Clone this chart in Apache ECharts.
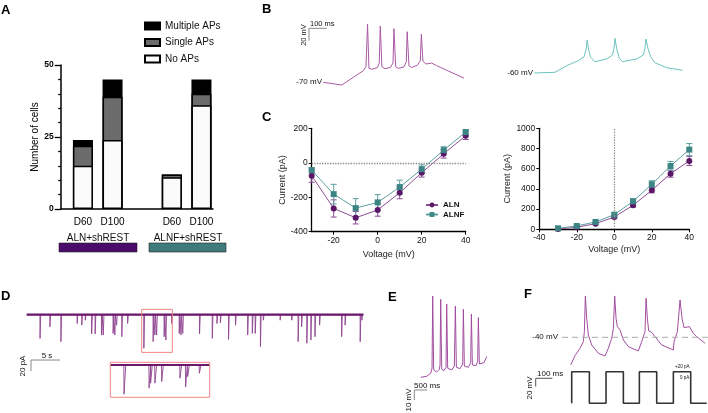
<!DOCTYPE html>
<html><head><meta charset="utf-8">
<script src="https://cdn.jsdelivr.net/npm/echarts@6/dist/echarts.min.js"></script>
<style>html,body{margin:0;padding:0;background:#fff}#c{width:708px;height:413px}</style>
</head><body><div id="c"></div>
<script>
// ================= DATA =================
// Panel A: number of cells by firing type
const groupsA = ['ALN+shREST', 'ALNF+shREST'];
const daysA = ['D60', 'D100', 'D60', 'D100'];
const catPosA = [1, 2, 4, 5];
const noAPs = [15, 24, 11, 36];
const singleAPs = [7, 15, 1, 4];
const multipleAPs = [2, 6, 0, 5];
const yTicksA = [0, 25, 50];

// Panel C: I-V curves
const voltages = [-30, -20, -10, 0, 10, 20, 30, 40];
const alnNa = [-75, -265, -319, -274, -174, -58, 52, 157];
const alnNaErr = [38, 50, 36, 36, 35, 25, 25, 22];
const alnfNa = [-43, -182, -263, -230, -141, -37, 73, 178];
const alnfNaErr = [15, 57, 55, 45, 40, 25, 20, 15];
const alnK = [3, 20, 56, 122, 238, 386, 551, 677];
const alnKErr = [3, 6, 10, 12, 18, 25, 35, 45];
const alnfK = [10, 33, 73, 145, 277, 446, 627, 789];
const alnfKErr = [4, 8, 12, 15, 25, 35, 45, 60];
const xTicksCL = [-20, 0, 20, 40];

// Panel B: current-clamp traces [ms, mV]
const traceB_ALN = [[0,-70],[104,-74.4],[109,-75],[170,-61.9],[226,-51.3],[241,-44.8],[250,24],[258,-47.4],[273,-49],[305,-46.5],[316,-39.5],[322,20.8],[331,-45],[348,-48],[380,-46],[394,-38.5],[399,16.5],[409,-45],[424,-47.5],[456,-45],[469,-37],[474,11.6],[484,-43.5],[499,-46],[531,-42.5],[548,-35.5],[554,7.4],[563,-36],[580,-40.5],[612,-39],[640,-43],[697,-50.5],[795,-63.4]];
const traceB_ALNF = [[0,-60],[117,-58.9],[183,-48.2],[249,-40.1],[281,-33.7],[292,-22.9],[299,-6.8],[307,-22.9],[318,-34.7],[343,-41.7],[409,-37.4],[442,-31],[450,-20.2],[456,-4.1],[465,-20.2],[480,-36.3],[499,-41.7],[578,-37.4],[616,-31],[625,-20.2],[631,-5.2],[642,-20.2],[657,-33.7],[681,-43.3],[747,-51.4],[838,-55.7]];

// Panel D: spontaneous currents (spike time s, amplitude pA)
const spikeTimesD = [2.3,4.0,5.9,8.7,9.5,10.1,11.2,11.8,12.9,13.2,14.9,15.2,15.5,16.4,17.4,20.2,21.8,22.1,22.4,23.7,24.0,25.0,26.3,26.6,26.9,29.8,32.0,32.8,33.4,34.8,36.0,38.1,38.9,39.4,40.3,40.8,43.7,45.7,46.8,47.4,48.3,49.0,49.7,50.5,54.3,54.9,57.5,57.8];
const spikeAmpsD = [-43,-22,-49,-16,-19,-10,-35,-35,-37,-37,-34,-37,-19,-40,-16,-61,-49,-37,-37,-40,-46,-16,-34,-37,-34,-35,-43,-16,-15,-45,-19,-37,-34,-34,-58,-10,-10,-10,-49,-22,-52,-46,-40,-19,-40,-19,-49,-10];
const recordEndD = 58.05;
const zoomWindowD = [19.83, 25.11];
const zoomAmpRangeD = [-68.5, 9.7];
const insetTimesD = [20.56, 21.89, 21.97, 22.20, 22.56, 23.53, 23.83, 23.94, 24.56];
const insetAmpsD = [-53, -42, -33, -33, -30, -24, -40, -21, -15];
const insetAmpRangeD = [-58.7, 4.9];

// Panel E: repetitive firing [ms, mV]
const traceE = [[0,-60],[231,-59],[385,-56],[436,-51],[462,21.3],[500,-52.7],[615,-54.7],[718,-52],[744,-47.7],[769,18],[808,-52],[897,-53.3],[974,-50],[1000,13.3],[1038,-51],[1192,-52.7],[1295,-48.7],[1333,11.3],[1372,-50],[1513,-51.3],[1615,-46.7],[1641,8],[1679,-48.7],[1833,-50],[1923,-45.3],[1949,3.3],[1987,-47.7],[2128,-48.3],[2192,-44],[2218,-0.3],[2256,-46.7],[2436,-45.3],[2538,-39.3]];

// Panel F: firing to square current pulses [ms, mV]
const traceF = [[0,-106.6],[26,-84],[56,-66.5],[76,-50.4],[82,-26.3],[88,59.6],[96,5.8],[106,-34.4],[126,-58.5],[166,-78.5],[206,-85],[226,-66.5],[246,-42.4],[256,-18.3],[264,59.6],[272,5.8],[280,-14.3],[296,-22.3],[316,-46.4],[346,-62.5],[406,-72.9],[426,-50.4],[446,-26.3],[452,54],[460,5.8],[468,-24.7],[486,-27.9],[506,-38.4],[546,-58.5],[616,-70.5],[620,-50.4],[640,-26.3],[656,50],[668,5.8],[680,-16.7],[712,-14.3],[736,-30.4],[756,-38.4],[806,-54.5]];
const stimEdgesF = [6, 112, 212, 316, 412, 516, 616, 720];
const stimEndF = 816;
const stimLevelsF = [0, 20];
const holdF = -40;

// ================= HELPERS =================
const FONT = 'Liberation Sans, Arial, sans-serif';
const grids = [], xAxes = [], yAxes = [], series = [];
function addGrid(g, xa, ya) {
  grids.push(g); const gi = grids.length - 1;
  xAxes.push(Object.assign({ gridIndex: gi }, xa));
  yAxes.push(Object.assign({ gridIndex: gi }, ya));
  return gi;
}
// a hidden grid whose scale is given by a reference point and units/px
function traceGrid(left, top, width, height, x0px, xPerPx, yRefPx, yRefVal, yPerPx) {
  return addGrid({ left, top, width, height },
    { type: 'value', show: false, min: (left - x0px) * xPerPx, max: (left + width - x0px) * xPerPx },
    { type: 'value', show: false, min: yRefVal - (top + height - yRefPx) * yPerPx, max: yRefVal + (yRefPx - top) * yPerPx });
}
function lineS(gi, data, color, width, extra) {
  return Object.assign({ type: 'line', xAxisIndex: gi, yAxisIndex: gi, data, symbol: 'none', silent: true,
    lineStyle: { color, width }, itemStyle: { color }, animation: false, z: 3 }, extra || {});
}
function scaleBar(gi, corner, dx, dy, color) {
  return lineS(gi, [[corner[0] + dx, corner[1]], corner, [corner[0], corner[1] - dy]], color || '#777', 1);
}
function errSeries(gi, xs, ys, es, color) {
  return { type: 'custom', xAxisIndex: gi, yAxisIndex: gi, silent: true, z: 2,
    data: xs.map((x, i) => [x, ys[i], es[i]]),
    renderItem: (p, api) => {
      const x = api.value(0), y = api.value(1), e = api.value(2);
      const hi = api.coord([x, y + e]), lo = api.coord([x, y - e]); const c = 3;
      const st = { stroke: color, lineWidth: 1 };
      return { type: 'group', children: [
        { type: 'line', shape: { x1: hi[0], y1: hi[1], x2: lo[0], y2: lo[1] }, style: st },
        { type: 'line', shape: { x1: hi[0] - c, y1: hi[1], x2: hi[0] + c, y2: hi[1] }, style: st },
        { type: 'line', shape: { x1: lo[0] - c, y1: lo[1], x2: lo[0] + c, y2: lo[1] }, style: st }
      ] };
    } };
}
const axBlack = { show: true, onZero: false, lineStyle: { color: '#000', width: 1.3 } };
const lblStyle = { color: '#111', fontSize: 8.5, fontFamily: FONT };

// ================= PANEL A =================
const gA = addGrid({ left: 60.7, top: 65, width: 152.3, height: 144 },
  { type: 'value', min: 0.25, max: 5.39, axisLine: { show: true, onZero: false, lineStyle: { color: '#000', width: 1.5 } },
    axisTick: { show: false }, splitLine: { show: false },
    axisLabel: { customValues: catPosA, formatter: v => daysA[catPosA.indexOf(v)] || '', color: '#000', fontSize: 10, fontFamily: FONT, margin: 8 } },
  { type: 'value', min: 0, max: 50, interval: 25, name: 'Number of cells', nameLocation: 'middle', nameGap: 20, nameMoveOverlap: false,
    nameTextStyle: { color: '#000', fontSize: 10, fontFamily: FONT },
    axisLine: { show: true, onZero: false, lineStyle: { color: '#000', width: 1.5 } },
    axisTick: { show: true, length: 6, lineStyle: { color: '#000', width: 1.3 } },
    minorTick: { show: true, splitNumber: 5, length: 2.5, lineStyle: { color: '#000', width: 1.3 } },
    splitLine: { show: false },
    axisLabel: { customValues: yTicksA, color: '#000', fontSize: 8.5, fontWeight: 'bold', fontFamily: FONT, margin: 7 } });
// stacked segments: each bar drawn up to its cumulative top, overlapping at the same position
const cumNo = noAPs.slice();
const cumSingle = noAPs.map((v, i) => v + singleAPs[i]);
const cumMultiple = cumSingle.map((v, i) => v + multipleAPs[i]);
const barA = (name, tops, color) => ({ name, type: 'bar', xAxisIndex: gA, yAxisIndex: gA, barWidth: 20, barGap: '-100%',
  data: tops.map((v, i) => [catPosA[i], v]), itemStyle: { color, borderColor: '#000', borderWidth: 1.5 }, animation: false });
series.push(barA('Multiple APs', cumMultiple, '#000'), barA('Single APs', cumSingle, '#6b6b6b'), barA('No APs', cumNo, '#fbfbfb'));

// ================= PANEL C (left) =================
const gCL = addGrid({ left: 311.7, top: 128.3, width: 154, height: 103.4 },
  { type: 'value', min: -30, max: 40, name: 'Voltage (mV)', nameLocation: 'middle', nameGap: 18,
    nameTextStyle: { color: '#222', fontSize: 9, fontFamily: FONT },
    axisLine: axBlack, axisTick: { show: true, length: 3, customValues: xTicksCL, lineStyle: { color: '#000' } },
    splitLine: { show: false }, axisLabel: Object.assign({ customValues: xTicksCL, margin: 4 }, lblStyle) },
  { type: 'value', min: -400, max: 200, interval: 200, name: 'Current (pA)', nameLocation: 'middle', nameGap: 22,
    nameTextStyle: { color: '#222', fontSize: 9, fontFamily: FONT },
    axisLine: axBlack, axisTick: { show: true, length: 3, lineStyle: { color: '#000' } }, splitLine: { show: false },
    axisLabel: Object.assign({ margin: 4 }, lblStyle) });
const ALN_M = '#5b1767', ALN_L = '#8b4e95', ALNF_M = '#3d8585', ALNF_L = '#5d9f9f';
series.push(errSeries(gCL, voltages, alnNa, alnNaErr, ALN_L), errSeries(gCL, voltages, alnfNa, alnfNaErr, ALNF_L));
series.push(lineS(gCL, voltages.map((v, i) => [v, alnNa[i]]), ALN_L, 1, { name: 'ALN', symbol: 'circle', symbolSize: 6, itemStyle: { color: ALN_M }, z: 4,
  markLine: { silent: true, symbol: 'none', label: { show: false }, lineStyle: { color: '#888', type: 'dotted', width: 1.3 }, data: [{ yAxis: 0 }] } }));
series.push(lineS(gCL, voltages.map((v, i) => [v, alnfNa[i]]), ALNF_L, 1, { name: 'ALNF', symbol: 'rect', symbolSize: 6, itemStyle: { color: ALNF_M }, z: 4 }));

// ================= PANEL C (right) =================
const gCR = addGrid({ left: 539.3, top: 128.3, width: 150, height: 101 },
  { type: 'value', min: -40, max: 40, interval: 20, name: 'Voltage (mV)', nameLocation: 'middle', nameGap: 16,
    nameTextStyle: { color: '#222', fontSize: 9, fontFamily: FONT },
    axisLine: axBlack, axisTick: { show: true, length: 3, lineStyle: { color: '#000' } }, splitLine: { show: false },
    axisLabel: Object.assign({ margin: 4 }, lblStyle) },
  { type: 'value', min: 0, max: 1000, interval: 200, name: 'Current (pA)', nameLocation: 'middle', nameGap: 27,
    nameTextStyle: { color: '#222', fontSize: 9, fontFamily: FONT },
    axisLine: axBlack, axisTick: { show: true, length: 3, lineStyle: { color: '#000' } }, splitLine: { show: false },
    axisLabel: Object.assign({ margin: 4, formatter: v => String(v) }, lblStyle) });
series.push(errSeries(gCR, voltages, alnK, alnKErr, ALN_L), errSeries(gCR, voltages, alnfK, alnfKErr, ALNF_L));
series.push(lineS(gCR, voltages.map((v, i) => [v, alnK[i]]), ALN_L, 1, { name: 'ALN', symbol: 'circle', symbolSize: 6, itemStyle: { color: ALN_M }, z: 4,
  markLine: { silent: true, symbol: 'none', label: { show: false }, lineStyle: { color: '#888', type: 'dotted', width: 1.3 }, data: [{ xAxis: 0 }] } }));
series.push(lineS(gCR, voltages.map((v, i) => [v, alnfK[i]]), ALNF_L, 1, { name: 'ALNF', symbol: 'rect', symbolSize: 6, itemStyle: { color: ALNF_M }, z: 4 }));

// ================= PANEL B =================
const gB1 = traceGrid(300, 15, 170, 75, 323.3, 5.65, 82.3, -70, 1.613);
series.push(lineS(gB1, traceB_ALN, '#aa5aa3', 1));
series.push(scaleBar(gB1, [-80.8, 17.1], 100, 20, '#888'));
const gB2 = traceGrid(530, 15, 170, 75, 534.3, 5.65, 73, -60, 1.613);
series.push(lineS(gB2, traceB_ALNF, '#6cc3bf', 1));

// ================= PANEL D =================
const gD = traceGrid(20, 305, 350, 70, 26.7, 5 / 29, 314.7, 0, 20 / 11);
const dTrace = [[0, 0]];
spikeTimesD.forEach((t, i) => { dTrace.push([t - 0.02, 0], [t, spikeAmpsD[i]], [t + 0.12, 0]); });
dTrace.push([recordEndD, 0]);
series.push(lineS(gD, dTrace, '#8e4490', 0.9));
series.push(lineS(gD, [[0, 0], [recordEndD, 0]], '#6a176c', 2.2));
series.push(lineS(gD, [[zoomWindowD[0], zoomAmpRangeD[0]], [zoomWindowD[0], zoomAmpRangeD[1]], [zoomWindowD[1], zoomAmpRangeD[1]], [zoomWindowD[1], zoomAmpRangeD[0]], [zoomWindowD[0], zoomAmpRangeD[0]]], '#ee8585', 1));
series.push(scaleBar(gD, [0.74, -82.4], 5, 20, '#888'));
const gDi = traceGrid(105, 355, 110, 47, 110.3, (zoomWindowD[1] - zoomWindowD[0]) / 99.4 , 365, 0, 20 / 11);
// shift inset x so window start maps to the box's left edge
xAxes[gDi].min += zoomWindowD[0]; xAxes[gDi].max += zoomWindowD[0];
const dInset = [[zoomWindowD[0], 0]];
insetTimesD.forEach((t, i) => { dInset.push([t - 0.01, 0], [t, insetAmpsD[i]], [t + 0.09, 0]); });
dInset.push([zoomWindowD[1], 0]);
series.push(lineS(gDi, dInset, '#8e4490', 0.9));
series.push(lineS(gDi, [[zoomWindowD[0], 0], [zoomWindowD[1], 0]], '#6a176c', 2));
series.push(lineS(gDi, [[zoomWindowD[0], insetAmpRangeD[0]], [zoomWindowD[0], insetAmpRangeD[1]], [zoomWindowD[1], insetAmpRangeD[1]], [zoomWindowD[1], insetAmpRangeD[0]], [zoomWindowD[0], insetAmpRangeD[0]]], '#ee8585', 1));

// ================= PANEL E =================
const gE = traceGrid(395, 285, 100, 122, 420.7, 38.46, 377.3, -60, 1);
series.push(lineS(gE, traceE, '#a24e9f', 1));
series.push(scaleBar(gE, [-246, -72.7], 500, 10, '#888'));

// ================= PANEL F =================
const gF = traceGrid(525, 285, 183, 125, 570.7, 6, 337.3, -40, 2.41);
series.push(lineS(gF, traceF, '#a24e9f', 1));
series.push(lineS(gF, [[-52, holdF], [824, holdF]], '#aaa', 1, { lineStyle: { color: '#aaa', width: 1, type: [6, 4] } }));
series.push(scaleBar(gF, [-210, -138.8], 100, 20, '#555'));
const gF2 = traceGrid(525, 285, 183, 125, 570.7, 6, 403.3, 0, 1 / 1.58);
const stim = [[stimEdgesF[0], stimLevelsF[0]]];
stimEdgesF.forEach((t, i) => { const from = stimLevelsF[i % 2], to = stimLevelsF[(i + 1) % 2]; stim.push([t, from], [t, to]); });
stim.push([stimEndF, stimLevelsF[stimEdgesF.length % 2]]);
series.push(lineS(gF2, stim, '#333', 1.6));

// ================= TEXT / DECORATION =================
function txt(x, y, text, size, extra) {
  const s = Object.assign({ text, fill: '#111', fontSize: size, fontFamily: FONT, align: 'left', verticalAlign: 'middle' }, extra || {});
  return { type: 'text', x, y, silent: true, style: s };
}
function vtxt(x, y, text, size) {
  return { type: 'text', x, y, rotation: Math.PI / 2, silent: true,
    style: { text, fill: '#111', fontSize: size, fontFamily: FONT, align: 'center', verticalAlign: 'middle' } };
}
const letters = [['A', 1, 10], ['B', 262, 9], ['C', 262, 117], ['D', 1, 296], ['E', 388, 297], ['F', 524, 294]];
const graphic = letters.map(l => txt(l[1], l[2], l[0], 13, { fontWeight: 'bold', fill: '#000' }));
graphic.push(
  txt(98, 238, groupsA[0], 10, { align: 'center' }), txt(188, 238, groupsA[1], 10, { align: 'center' }),
  { type: 'rect', shape: { x: 59, y: 243, width: 78, height: 9 }, style: { fill: '#4b0b6b', stroke: '#222', lineWidth: 0.6 }, silent: true },
  { type: 'rect', shape: { x: 149, y: 243, width: 77, height: 9 }, style: { fill: '#3f7b7a', stroke: '#222', lineWidth: 0.6 }, silent: true },
  txt(322, 82, '-70 mV', 8, { align: 'right' }), txt(533, 73, '-60 mV', 8, { align: 'right' }),
  txt(310, 24, '100 ms', 7.5), vtxt(304, 35, '20 mV', 7.5),
  txt(47, 356, '5 s', 8, { align: 'center' }), vtxt(23, 366, '20 pA', 8),
  txt(414, 386, '500 ms', 8), vtxt(409, 400, '10 mV', 8),
  txt(558, 337, '-40 mV', 8, { align: 'right' }),
  txt(537, 374, '100 ms', 8), vtxt(530, 388, '20 mV', 8),
  txt(675, 367, '+20 pA', 4.5), txt(680, 377.5, '0 pA', 4.5)
);

const chart = echarts.init(document.getElementById('c'), null, { renderer: 'canvas' });
chart.setOption({
  animation: false,
  backgroundColor: '#fff',
  textStyle: { fontFamily: FONT },
  grid: grids, xAxis: xAxes, yAxis: yAxes, series,
  legend: [
    { data: ['Multiple APs', 'Single APs', 'No APs'], orient: 'vertical', left: 144, top: 21, padding: 0, itemWidth: 15, itemHeight: 7, itemGap: 6.5,
      icon: 'rect', textStyle: { fontSize: 10, color: '#111', fontFamily: FONT }, selectedMode: false },
    { data: ['ALN', 'ALNF'], orient: 'vertical', left: 425, top: 201, padding: 0, itemWidth: 12, itemHeight: 6, itemGap: 1.5,
      textStyle: { fontSize: 8, fontWeight: 'bold', color: '#111', fontFamily: FONT }, selectedMode: false }
  ],
  graphic
});
</script></body></html>
